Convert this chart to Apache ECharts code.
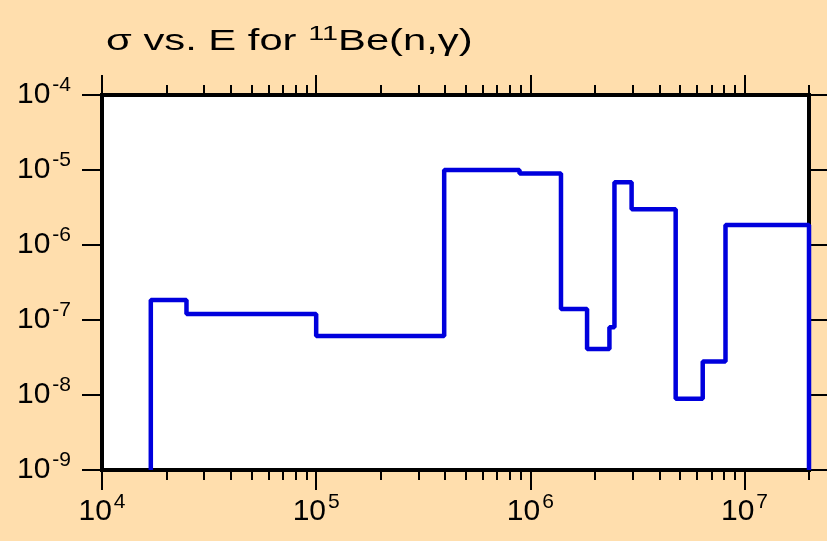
<!DOCTYPE html>
<html>
<head>
<meta charset="utf-8">
<script src="https://cdn.jsdelivr.net/npm/echarts@6/dist/echarts.min.js"></script>
<style>
  html, body { margin: 0; padding: 0; background: #ffdead; }
  #chart { width: 827px; height: 541px; }
</style>
</head>
<body>
<div id="chart"></div>
<script>
// bin edges (eV) and cross sections (b) of the step plot
const edges = [1.69e4, 2.48e4, 1e5, 3.96e5, 8.9e5, 1.39e6, 1.84e6, 2.34e6, 2.47e6, 2.97e6, 4.77e6, 6.38e6, 8.15e6, 2e7];
const sigma = [1.85e-7, 1.2e-7, 6.1e-8, 1.0e-5, 9.0e-6, 1.4e-7, 4.1e-8, 8.0e-8, 6.85e-6, 3.0e-6, 8.9e-9, 2.8e-8, 1.85e-6];

// axis decades
const xDecades = [4, 5, 6, 7];
const yDecades = [-9, -8, -7, -6, -5, -4];
const minorMult = [2, 3, 4, 5, 6, 7, 8, 9];
const xMin = 1e4, xMax = 2e7;

const lx = v => Math.log10(v);
const X_MIN = lx(xMin), X_MAX = lx(xMax);

const minorTicks = [];
xDecades.forEach(d => {
  minorMult.forEach(m => {
    const v = lx(m * Math.pow(10, d));
    if (v <= X_MAX + 1e-9) minorTicks.push(v);
  });
});
minorTicks.push(X_MAX);

// step points: rise from the floor, plateaus, drop back at the end
const stepData = [[lx(edges[0]), -9]];
sigma.forEach((s, i) => stepData.push([lx(edges[i]), lx(s)]));
stepData.push([lx(edges[edges.length - 1]), lx(sigma[sigma.length - 1])]);
stepData.push([lx(edges[edges.length - 1]), -9]);

const font = 'Liberation Sans, Arial, sans-serif';
const richPow = {
  b: { fontSize: 30, lineHeight: 40, fontFamily: font, color: '#000' },
  s: { fontSize: 21, lineHeight: 20, verticalAlign: 'top', padding: [0, 0, 0, 2], fontFamily: font, color: '#000' }
};
const tickStyle = { color: '#000', width: 2 };

function xAxisDef(pos, values, len, labels) {
  return {
    type: 'value', position: pos, min: X_MIN, max: X_MAX,
    axisLine: { show: false },
    splitLine: { show: false },
    axisTick: { show: true, length: len, lineStyle: tickStyle, customValues: values },
    axisLabel: labels ? {
      show: true, margin: 22, customValues: values,
      formatter: v => '{b|10}{s|' + Math.round(v) + '}', rich: richPow
    } : { show: false }
  };
}

function yAxisDef(pos, labels) {
  return {
    type: 'value', position: pos, min: -9, max: -4, interval: 1,
    axisLine: { show: false },
    splitLine: { show: false },
    axisTick: { show: true, length: 20, lineStyle: tickStyle, customValues: yDecades },
    axisLabel: labels ? {
      show: true, margin: 31, customValues: yDecades,
      formatter: v => '{b|10}{s|' + Math.round(v) + '}', rich: richPow
    } : { show: false }
  };
}

const chart = echarts.init(document.getElementById('chart'));
chart.setOption({
  backgroundColor: '#ffdead',
  animation: false,
  graphic: [{
    type: 'text',
    x: 106, y: 24,
    scaleX: 1.44,
    style: {
      text: '{a|σ vs. E for }{s|11}{a|Be(n,γ)}',
      align: 'left', verticalAlign: 'top',
      rich: {
        a: { fontSize: 29, lineHeight: 36, fontFamily: font, fill: '#000', color: '#000' },
        s: { fontSize: 20, lineHeight: 22, verticalAlign: 'top', fontFamily: font, fill: '#000', color: '#000' }
      }
    }
  }],
  grid: {
    left: 102, right: 18, top: 95, bottom: 71,
    show: true, backgroundColor: '#ffffff', borderColor: '#000', borderWidth: 4
  },
  xAxis: [
    xAxisDef('bottom', xDecades, 20, true),
    xAxisDef('bottom', minorTicks, 10, false),
    xAxisDef('top', xDecades, 20, false),
    xAxisDef('top', minorTicks, 10, false)
  ],
  yAxis: [yAxisDef('left', true), yAxisDef('right', false)],
  series: [{
    type: 'line',
    step: 'end',
    xAxisIndex: 0, yAxisIndex: 0,
    data: stepData,
    showSymbol: false,
    clip: false,
    lineStyle: { color: '#0000dd', width: 4.5 }
  }]
});
</script>
</body>
</html>
